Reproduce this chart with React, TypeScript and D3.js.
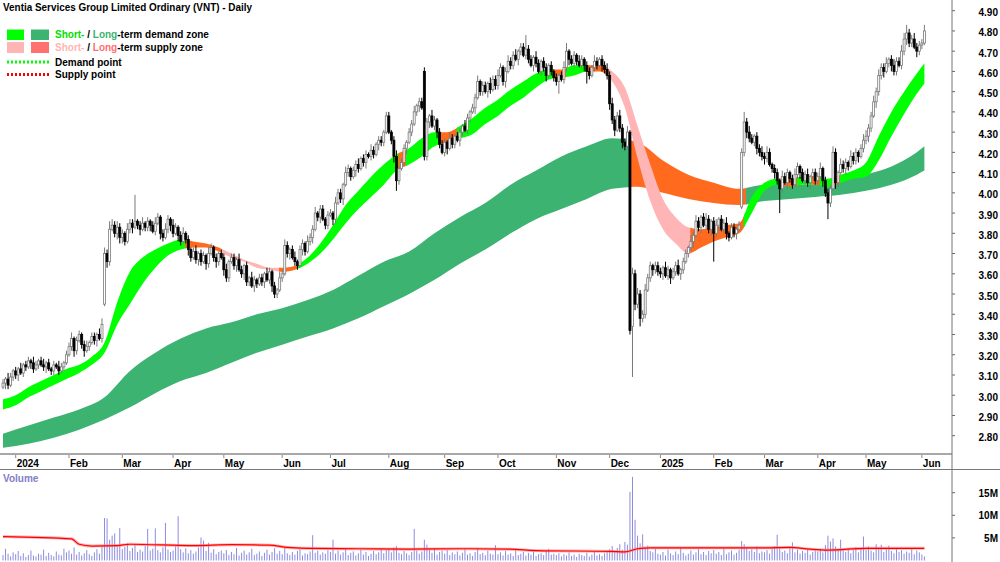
import React from "react";
import * as d3 from "d3";

const TITLE = "Ventia Services Group Limited Ordinary (VNT) - Daily";

// trading days per month (Dec-2023 tail ... Jun-2025 head) and labels
const monthLabels = ["", "2024", "Feb", "Mar", "Apr", "May", "Jun", "Jul", "Aug", "Sep", "Oct", "Nov", "Dec", "2025", "Feb", "Mar", "Apr", "May", "Jun"];
const monthDays = [5, 21, 21, 20, 20, 23, 19, 23, 22, 21, 23, 21, 20, 21, 20, 21, 19, 22, 2];

// daily closes by month
const cDec23 = [3.06, 3.08, 3.05, 3.09, 3.12];
const cJan24 = [3.10, 3.13, 3.11, 3.15, 3.14, 3.17, 3.16, 3.13, 3.15, 3.17, 3.15, 3.14, 3.16, 3.13, 3.12, 3.15, 3.14, 3.12, 3.14, 3.16, 3.20];
const cFeb24 = [3.24, 3.28, 3.22, 3.27, 3.30, 3.25, 3.22, 3.24, 3.26, 3.29, 3.27, 3.30, 3.28, 3.35, 3.70, 3.66, 3.82, 3.84, 3.80, 3.83, 3.78];
const cMar24 = [3.80, 3.76, 3.82, 3.85, 3.83, 3.86, 3.84, 3.82, 3.85, 3.83, 3.86, 3.84, 3.81, 3.85, 3.88, 3.80, 3.78, 3.82, 3.87, 3.84];
const cApr24 = [3.80, 3.83, 3.79, 3.76, 3.80, 3.77, 3.72, 3.68, 3.71, 3.67, 3.70, 3.66, 3.69, 3.65, 3.70, 3.73, 3.68, 3.66, 3.70, 3.68];
const cMay24 = [3.62, 3.58, 3.66, 3.68, 3.64, 3.67, 3.62, 3.60, 3.64, 3.56, 3.58, 3.54, 3.57, 3.55, 3.58, 3.56, 3.60, 3.57, 3.61, 3.54, 3.50, 3.52, 3.58];
const cJun24 = [3.60, 3.74, 3.70, 3.72, 3.68, 3.66, 3.64, 3.72, 3.75, 3.71, 3.76, 3.78, 3.82, 3.90, 3.88, 3.92, 3.87, 3.84, 3.89];
const cJul24 = [3.90, 3.87, 3.95, 4.00, 3.97, 4.04, 4.10, 4.12, 4.08, 4.11, 4.14, 4.12, 4.17, 4.15, 4.19, 4.18, 4.21, 4.19, 4.24, 4.26, 4.25, 4.30, 4.38];
const cAug24 = [4.30, 4.26, 4.18, 4.06, 4.12, 4.15, 4.22, 4.25, 4.30, 4.34, 4.40, 4.43, 4.45, 4.42, 4.18, 4.35, 4.38, 4.33, 4.36, 4.30, 4.24, 4.20];
const cSep24 = [4.25, 4.22, 4.27, 4.24, 4.28, 4.26, 4.30, 4.33, 4.31, 4.37, 4.40, 4.42, 4.47, 4.55, 4.50, 4.53, 4.50, 4.54, 4.51, 4.56, 4.53];
const cOct24 = [4.58, 4.62, 4.55, 4.60, 4.65, 4.63, 4.68, 4.66, 4.70, 4.72, 4.68, 4.71, 4.66, 4.63, 4.67, 4.64, 4.60, 4.65, 4.62, 4.58, 4.63, 4.60, 4.57];
const cNov24 = [4.55, 4.58, 4.56, 4.62, 4.70, 4.66, 4.64, 4.68, 4.65, 4.63, 4.66, 4.63, 4.60, 4.58, 4.62, 4.65, 4.63, 4.66, 4.63, 4.61, 4.58];
const cDec24 = [4.44, 4.36, 4.31, 4.38, 4.32, 4.25, 4.23, 4.30, 3.32, 3.60, 3.45, 3.50, 3.38, 3.40, 3.52, 3.58, 3.64, 3.62, 3.64, 3.61];
const cJan25 = [3.60, 3.63, 3.59, 3.62, 3.58, 3.61, 3.64, 3.60, 3.62, 3.66, 3.70, 3.73, 3.76, 3.79, 3.86, 3.83, 3.88, 3.84, 3.87, 3.82, 3.86];
const cFeb25 = [3.80, 3.84, 3.87, 3.82, 3.85, 3.80, 3.78, 3.83, 3.80, 3.82, 3.84, 4.20, 4.35, 4.30, 4.27, 4.25, 4.28, 4.22, 4.20, 4.18];
const cMar25 = [4.17, 4.20, 4.14, 4.12, 4.10, 4.06, 4.02, 4.08, 4.05, 4.10, 4.07, 4.04, 4.09, 4.13, 4.10, 4.06, 4.09, 4.05, 4.08, 4.10, 4.06];
const cApr25 = [4.08, 4.12, 4.06, 4.00, 3.95, 4.02, 4.20, 4.05, 4.10, 4.14, 4.12, 4.15, 4.13, 4.18, 4.16, 4.20, 4.18, 4.22, 4.26];
const cMay25 = [4.28, 4.32, 4.38, 4.45, 4.50, 4.58, 4.62, 4.60, 4.64, 4.66, 4.63, 4.60, 4.65, 4.63, 4.70, 4.76, 4.79, 4.74, 4.76, 4.72, 4.70, 4.73];
const cJun25 = [4.74, 4.80];

// opens that differ from the previous close (gaps): [barIndex, open]
const gapOpens: [number, number][] = [[0, 3.04], [40, 3.45], [166, 4.60], [248, 3.34], [291, 3.93]];

// wick lengths above / below the body, in cents
const wickHi = [
  2, 1, 3, 2, 1,
  2, 1, 3, 1, 2, 2, 1, 3, 2, 1, 2, 3, 1, 2, 1, 2, 1, 3, 2, 1, 2,
  2, 3, 1, 2, 2, 1, 2, 3, 1, 2, 2, 1, 3, 3, 3, 2, 4, 3, 2, 3, 2,
  2, 1, 3, 2, 2, 13, 1, 2, 3, 1, 2, 1, 2, 3, 2, 1, 2, 3, 2, 1,
  3, 2, 1, 2, 3, 1, 2, 1, 2, 3, 1, 2, 2, 1, 3, 2, 1, 2, 1, 2,
  2, 3, 1, 2, 2, 1, 3, 2, 1, 2, 1, 3, 2, 1, 2, 2, 1, 3, 2, 1, 2, 1, 3,
  2, 3, 2, 1, 2, 3, 1, 2, 2, 1, 3, 2, 2, 3, 1, 2, 2, 1, 2,
  2, 1, 3, 2, 2, 1, 3, 2, 1, 2, 2, 3, 1, 2, 2, 1, 3, 2, 1, 2, 2, 1, 2,
  2, 1, 2, 3, 1, 2, 2, 1, 2, 2, 3, 1, 2, 2, 2, 2, 1, 3, 2, 1, 2, 2,
  2, 1, 3, 2, 1, 2, 2, 1, 3, 2, 1, 2, 2, 3, 1, 2, 2, 1, 3, 2, 2,
  3, 2, 1, 2, 3, 2, 2, 3, 1, 2, 2, 7, 2, 2, 1, 3, 2, 1, 2, 2, 1, 2, 1,
  2, 1, 2, 3, 4, 1, 2, 2, 1, 3, 2, 1, 2, 2, 1, 3, 2, 1, 2, 2, 3,
  2, 3, 2, 2, 3, 2, 2, 3, 1, 3, 2, 3, 2, 2, 3, 2, 2, 1, 2, 2,
  2, 1, 3, 2, 1, 2, 2, 3, 1, 2, 2, 1, 3, 2, 3, 2, 1, 2, 3, 2, 1,
  2, 3, 1, 2, 2, 3, 1, 2, 2, 1, 2, 2, 5, 2, 3, 2, 1, 2, 2, 3,
  2, 3, 2, 1, 2, 2, 1, 3, 2, 2, 1, 2, 3, 2, 1, 2, 2, 3, 1, 2, 2,
  2, 3, 1, 2, 2, 2, 3, 2, 1, 3, 2, 2, 1, 3, 2, 2, 1, 2, 3,
  3, 2, 2, 3, 2, 3, 2, 2, 3, 1, 2, 3, 2, 2, 3, 3, 4, 2, 2, 3, 2, 2,
  2, 3,
];
const wickLo = [
  1, 3, 2, 1, 2,
  2, 3, 1, 2, 2, 1, 3, 2, 1, 2, 1, 2, 3, 1, 2, 2, 1, 2, 1, 2, 1,
  1, 2, 3, 2, 1, 2, 3, 1, 2, 1, 2, 3, 1, 2, 1, 3, 2, 1, 2, 3, 3,
  3, 2, 1, 2, 3, 1, 2, 3, 1, 2, 2, 3, 1, 2, 1, 3, 2, 1, 2, 3,
  2, 1, 3, 2, 1, 2, 3, 2, 1, 2, 3, 2, 1, 3, 2, 1, 2, 3, 2, 1,
  3, 2, 2, 1, 2, 3, 1, 2, 3, 2, 2, 1, 3, 2, 1, 2, 3, 1, 2, 3, 2, 2, 1,
  2, 1, 2, 3, 1, 2, 2, 1, 3, 2, 1, 2, 3, 1, 2, 3, 1, 2, 2,
  1, 3, 2, 1, 2, 3, 1, 2, 2, 1, 3, 2, 1, 2, 3, 1, 2, 2, 1, 3, 2, 2, 1,
  1, 2, 3, 5, 2, 1, 2, 3, 1, 2, 1, 2, 3, 1, 2, 2, 3, 1, 2, 3, 2, 1,
  2, 3, 1, 2, 2, 1, 3, 2, 1, 2, 2, 1, 3, 1, 2, 2, 1, 3, 2, 1, 2,
  2, 1, 2, 3, 1, 2, 2, 1, 3, 2, 1, 2, 2, 1, 3, 2, 1, 2, 2, 3, 1, 2, 2,
  2, 6, 1, 2, 2, 3, 1, 2, 2, 1, 2, 3, 6, 2, 1, 2, 2, 1, 3, 2, 2,
  3, 2, 3, 1, 2, 3, 2, 1, 2, 25, 3, 2, 4, 2, 2, 1, 2, 3, 2, 2,
  2, 3, 1, 2, 3, 1, 2, 1, 3, 2, 1, 2, 2, 3, 1, 2, 3, 1, 2, 2, 3,
  14, 2, 3, 1, 2, 3, 2, 1, 2, 3, 1, 1, 2, 3, 2, 1, 2, 3, 2, 2,
  3, 2, 1, 2, 3, 2, 12, 2, 1, 3, 2, 2, 1, 2, 3, 1, 2, 2, 3, 1, 2,
  2, 1, 3, 2, 8, 2, 1, 3, 2, 1, 2, 3, 2, 1, 2, 2, 3, 1, 2,
  2, 3, 2, 1, 3, 2, 2, 3, 1, 2, 3, 2, 2, 1, 2, 2, 3, 2, 2, 1, 3, 2,
  2, 1,
];

// daily volume (millions)
const vDec23 = [1.2, 2.6, 1.5, 0.9, 1.8];
const vJan24 = [1.4, 2.1, 1.0, 1.6, 0.8, 1.2, 2.2, 1.1, 0.9, 1.5, 1.3, 2.4, 1.0, 1.7, 1.2, 0.9, 2.0, 1.3, 1.1, 2.6, 1.8];
const vFeb24 = [2.2, 1.5, 2.9, 1.3, 1.9, 1.1, 1.6, 2.3, 1.4, 1.0, 1.8, 2.5, 1.5, 3.1, 9.4, 9.3, 4.6, 5.5, 6.0, 3.2, 7.2];
const vMar24 = [2.5, 3.0, 3.9, 2.1, 2.8, 3.5, 1.9, 2.4, 2.0, 3.2, 7.0, 2.2, 2.6, 7.1, 2.3, 1.8, 2.9, 8.3, 2.4, 1.9];
const vApr24 = [2.2, 3.1, 9.8, 2.5, 1.8, 2.7, 1.6, 2.3, 1.5, 2.0, 2.9, 5.1, 4.4, 2.1, 3.9, 1.7, 2.5, 1.4, 1.9, 2.2];
const vMay24 = [1.6, 2.3, 1.2, 1.9, 1.4, 2.8, 1.1, 1.7, 2.2, 1.3, 1.8, 2.6, 1.2, 1.5, 2.0, 1.0, 1.7, 2.4, 1.3, 1.9, 2.7, 1.5, 2.1];
const vJun24 = [1.4, 2.8, 1.6, 1.2, 1.9, 1.3, 2.1, 2.5, 1.1, 1.6, 1.4, 2.0, 5.6, 1.7, 2.2, 1.3, 1.8, 1.5, 2.3];
const vJul24 = [1.9, 4.6, 1.5, 2.2, 1.3, 1.8, 2.6, 1.2, 1.7, 2.0, 1.1, 1.6, 2.4, 1.3, 1.9, 1.0, 1.5, 2.1, 1.4, 1.8, 2.7, 1.6, 2.3];
const vAug24 = [2.5, 1.8, 2.9, 3.2, 1.7, 1.4, 2.1, 1.6, 1.2, 1.9, 7.0, 2.2, 1.5, 2.0, 4.6, 3.5, 2.4, 1.7, 2.6, 1.3, 1.9, 2.2];
const vSep24 = [1.5, 2.3, 1.2, 1.8, 1.4, 2.0, 1.1, 1.7, 2.5, 1.3, 1.6, 1.0, 1.9, 2.8, 1.4, 1.7, 1.2, 2.2, 1.5, 1.3, 3.4];
const vOct24 = [1.4, 1.8, 1.1, 2.1, 1.3, 1.6, 1.0, 2.4, 1.2, 1.5, 1.9, 1.1, 1.7, 1.3, 2.0, 1.0, 1.4, 1.6, 1.2, 2.2, 2.6, 1.3, 1.5];
const vNov24 = [1.2, 1.6, 0.9, 1.4, 1.1, 1.8, 1.0, 1.3, 0.8, 1.5, 1.2, 1.0, 1.7, 0.9, 1.3, 2.1, 1.1, 1.4, 1.0, 1.6, 1.9];
const vDec24 = [2.5, 3.2, 2.0, 2.8, 3.6, 2.4, 4.1, 3.5, 15.2, 18.5, 9.0, 5.5, 3.8, 5.8, 2.9, 3.3, 2.1, 1.8, 2.6, 1.5];
const vJan25 = [1.3, 1.9, 1.1, 2.4, 1.6, 1.2, 2.0, 1.4, 2.8, 1.7, 1.1, 1.5, 2.2, 1.3, 1.8, 2.5, 1.4, 1.9, 1.2, 2.1, 1.6];
const vFeb25 = [2.3, 1.5, 1.9, 1.2, 2.6, 1.4, 1.8, 2.2, 1.3, 1.7, 2.4, 4.3, 3.6, 2.8, 2.1, 2.5, 1.9, 3.1, 1.6, 2.0];
const vMar25 = [1.8, 2.3, 1.5, 2.7, 3.2, 5.7, 2.6, 1.9, 2.2, 1.6, 2.9, 4.0, 1.8, 2.4, 1.5, 2.1, 1.7, 2.5, 1.3, 1.9, 2.2];
const vApr25 = [2.0, 2.6, 1.8, 3.4, 5.5, 4.2, 4.9, 3.1, 2.5, 4.6, 2.2, 1.9, 2.7, 1.6, 2.3, 3.0, 1.8, 2.6, 5.3];
const vMay25 = [2.4, 3.1, 2.2, 1.8, 3.6, 2.7, 3.5, 1.9, 2.5, 3.3, 2.1, 1.6, 2.8, 1.9, 2.3, 1.5, 2.0, 1.7, 2.6, 1.4, 2.2, 1.8];
const vJun25 = [1.3, 0.9];

// volume moving average, read at sample bars: [barIndex, millions]
const volMA: [number, number][] = [[0, 5.3], [27, 4.8], [30, 3.6], [35, 3.2], [45, 3.3], [50, 3.6], [75, 3.3], [90, 3.5], [105, 3.4], [112, 2.9], [120, 2.7], [140, 2.6], [160, 2.5], [180, 2.6], [200, 2.5], [210, 2.2], [240, 2.0], [245, 1.9], [250, 2.6], [255, 2.8], [300, 2.8], [310, 2.9], [318, 2.5], [325, 2.3], [340, 2.7], [363, 2.7]];

// short-term zone edges, sampled every 5 bars (last at 363)
const stHi = [2.98, 3.00, 3.04, 3.07, 3.10, 3.13, 3.15, 3.19, 3.26, 3.46, 3.61, 3.68, 3.72, 3.75, 3.77, 3.76, 3.75, 3.73, 3.70, 3.67, 3.65, 3.63, 3.63, 3.64, 3.68, 3.75, 3.84, 3.94, 4.01, 4.08, 4.14, 4.19, 4.22, 4.27, 4.30, 4.30, 4.33, 4.37, 4.42, 4.46, 4.51, 4.55, 4.59, 4.61, 4.61, 4.63, 4.63, 4.63, 4.60, 4.52, 4.33, 4.14, 3.97, 3.88, 3.83, 3.82, 3.83, 3.84, 3.85, 3.98, 4.05, 4.07, 4.07, 4.08, 4.08, 4.07, 4.09, 4.11, 4.15, 4.28, 4.40, 4.50, 4.59, 4.64];
const stLo = [2.93, 2.95, 2.99, 3.02, 3.05, 3.08, 3.11, 3.15, 3.21, 3.35, 3.45, 3.55, 3.63, 3.69, 3.72, 3.73, 3.73, 3.71, 3.68, 3.66, 3.63, 3.62, 3.61, 3.62, 3.65, 3.70, 3.77, 3.85, 3.92, 3.98, 4.04, 4.11, 4.14, 4.18, 4.23, 4.25, 4.27, 4.29, 4.34, 4.38, 4.43, 4.47, 4.52, 4.56, 4.57, 4.58, 4.60, 4.60, 4.55, 4.42, 4.17, 3.96, 3.82, 3.75, 3.70, 3.73, 3.76, 3.78, 3.80, 3.90, 4.01, 4.04, 4.03, 4.04, 4.04, 4.03, 4.05, 4.07, 4.08, 4.16, 4.28, 4.39, 4.49, 4.54];
// short-term zone state by bar range: d = demand, s = supply, o = mixed
const stStates: [number, number, string][] = [[0, 72, "d"], [72, 86, "o"], [86, 109, "s"], [109, 116, "o"], [116, 156, "d"], [156, 159, "o"], [159, 166, "d"], [166, 167, "o"], [167, 172, "d"], [172, 179, "o"], [179, 217, "d"], [217, 222, "o"], [222, 230, "d"], [230, 238, "o"], [238, 271, "s"], [271, 292, "o"], [292, 306, "d"], [306, 313, "o"], [313, 319, "d"], [319, 322, "o"], [322, 327, "d"], [327, 330, "o"], [330, 363, "d"]];

// long-term zone edges, sampled every 10 bars (last at 363)
const ltHi = [2.81, 2.85, 2.89, 2.93, 2.99, 3.12, 3.21, 3.28, 3.33, 3.36, 3.40, 3.43, 3.47, 3.52, 3.59, 3.66, 3.71, 3.80, 3.88, 3.95, 4.04, 4.11, 4.18, 4.23, 4.27, 4.25, 4.16, 4.09, 4.05, 4.02, 4.04, 4.04, 4.04, 4.06, 4.09, 4.13, 4.20, 4.23];
const ltLo = [2.74, 2.76, 2.79, 2.83, 2.88, 2.94, 3.01, 3.07, 3.11, 3.16, 3.21, 3.25, 3.29, 3.33, 3.38, 3.44, 3.50, 3.57, 3.65, 3.72, 3.80, 3.87, 3.92, 3.97, 4.02, 4.03, 4.00, 3.97, 3.95, 3.94, 3.96, 3.97, 3.98, 3.99, 4.01, 4.04, 4.09, 4.11];
const ltStates: [number, number, string][] = [[0, 247, "d"], [247, 293, "o"], [293, 363, "d"]];

const priceTicks = [2.8, 2.9, 3.0, 3.1, 3.2, 3.3, 3.4, 3.5, 3.6, 3.7, 3.8, 3.9, 4.0, 4.1, 4.2, 4.3, 4.4, 4.5, 4.6, 4.7, 4.8, 4.9];
const volTicks = [5, 10, 15];

const close = [...cDec23, ...cJan24, ...cFeb24, ...cMar24, ...cApr24, ...cMay24, ...cJun24, ...cJul24, ...cAug24, ...cSep24, ...cOct24, ...cNov24, ...cDec24, ...cJan25, ...cFeb25, ...cMar25, ...cApr25, ...cMay25, ...cJun25];
const volume = [...vDec23, ...vJan24, ...vFeb24, ...vMar24, ...vApr24, ...vMay24, ...vJun24, ...vJul24, ...vAug24, ...vSep24, ...vOct24, ...vNov24, ...vDec24, ...vJan25, ...vFeb25, ...vMar25, ...vApr25, ...vMay25, ...vJun25];

const W = 1000, H = 562;
const PLOT_R = 952;
const PRICE_B = 453;
const FONT = "'Liberation Sans', Arial, Helvetica, sans-serif";

const ST_COL: Record<string, string> = { d: "#00ff00", s: "#ffb5b5", o: "#ff6a1e" };
const LT_COL: Record<string, string> = { d: "#3cb371", o: "#ff6a1e" };

export default function App() {
  const n = close.length;
  const x = d3.scaleLinear().domain([0, 363]).range([3, 924.4]);
  const y = d3.scaleLinear().domain([2.8, 4.9]).range([435.7, 10.7]);
  const yv = d3.scaleLinear().domain([0, 20]).range([560.5, 470.1]);

  const gapMap = new Map(gapOpens);
  const bars = close.map((c, i) => {
    const o = gapMap.has(i) ? (gapMap.get(i) as number) : close[i - 1];
    const top = Math.max(o, c), bot = Math.min(o, c);
    return { i, o, c, hi: top + wickHi[i] / 100, lo: bot - wickLo[i] / 100, up: c >= o };
  });

  const stIdx = stHi.map((_, k) => Math.min(k * 5, 363));
  const ltIdx = ltHi.map((_, k) => Math.min(k * 10, 363));
  const stData = stIdx.map((i, k) => ({ i, hi: stHi[k], lo: stLo[k] }));
  const ltData = ltIdx.map((i, k) => ({ i, hi: ltHi[k], lo: ltLo[k] }));
  const area = d3.area<{ i: number; hi: number; lo: number }>()
    .x(d => x(d.i)).y0(d => y(d.lo)).y1(d => y(d.hi)).curve(d3.curveMonotoneX);
  const stPath = area(stData) || "";
  const ltPath = area(ltData) || "";

  const maLine = d3.line<[number, number]>().x(d => x(d[0])).y(d => yv(d[1])).curve(d3.curveMonotoneX)(volMA) || "";

  const starts: number[] = [];
  monthDays.reduce((acc, d) => { starts.push(acc); return acc + d; }, 0);

  const clipRect = (a: number, b: number) => {
    const x0 = a === 0 ? 0 : x(a) - 0.6;
    const x1 = b === 363 ? PLOT_R : x(b) + 0.6;
    return { x: x0, width: x1 - x0 };
  };

  return (
    <svg width={W} height={H} style={{ position: "absolute", left: 0, top: 0, background: "#fff" }} fontFamily={FONT}>
      <defs>
        <clipPath id="pricePanel"><rect x={0} y={0} width={PLOT_R} height={PRICE_B} /></clipPath>
        <clipPath id="volPanel"><rect x={0} y={471} width={PLOT_R} height={H - 471} /></clipPath>
        {ltStates.map(([a, b], k) => {
          const r = clipRect(a, b);
          return <clipPath key={"ltc" + k} id={"ltc" + k}><rect x={r.x} y={0} width={r.width} height={PRICE_B} /></clipPath>;
        })}
        {stStates.map(([a, b], k) => {
          const r = clipRect(a, b);
          return <clipPath key={"stc" + k} id={"stc" + k}><rect x={r.x} y={0} width={r.width} height={PRICE_B} /></clipPath>;
        })}
      </defs>
      <rect x={0} y={0} width={W} height={H} fill="#fff" />

      <g clipPath="url(#pricePanel)">
        {ltStates.map(([, , s], k) => (
          <path key={"lt" + k} d={ltPath} fill={LT_COL[s]} clipPath={`url(#ltc${k})`} />
        ))}
        {stStates.map(([, , s], k) => (
          <path key={"st" + k} d={stPath} fill={ST_COL[s]} clipPath={`url(#stc${k})`} />
        ))}
        {bars.map(b => {
          const cx = x(b.i);
          const col = b.up ? "#7a7a7a" : "#000";
          const yt = y(Math.max(b.o, b.c));
          const yb = y(Math.min(b.o, b.c));
          return (
            <g key={"c" + b.i}>
              <line x1={cx} x2={cx} y1={y(b.hi)} y2={y(b.lo)} stroke={col} strokeWidth={1} />
              <rect x={cx - 1} y={yt} width={2} height={Math.max(yb - yt, 0.8)}
                fill={b.up ? "#fff" : "#000"} stroke={col} strokeWidth={0.8} />
            </g>
          );
        })}
      </g>

      {/* title & legend */}
      <text x={3} y={10.5} fontSize={10} fontWeight="bold" fill="#000" textLength={249} lengthAdjust="spacingAndGlyphs">{TITLE}</text>
      <rect x={7} y={29.5} width={17} height={10.5} fill="#00ff00" />
      <rect x={31} y={29.5} width={18} height={10.5} fill="#3cb371" />
      <text x={55} y={38} fontSize={10} fontWeight="bold">
        <tspan fill="#00e000">Short-</tspan><tspan fill="#000"> / </tspan><tspan fill="#3cb371">Long</tspan><tspan fill="#000">-term demand zone</tspan>
      </text>
      <rect x={7} y={42} width={17} height={11} fill="#ffb5b5" />
      <rect x={31} y={42} width={18} height={11} fill="#ff7070" />
      <text x={55} y={50.5} fontSize={10} fontWeight="bold">
        <tspan fill="#ffb5b5">Short-</tspan><tspan fill="#000"> / </tspan><tspan fill="#ff7070">Long</tspan><tspan fill="#000">-term supply zone</tspan>
      </text>
      <line x1={7} x2={49} y1={62} y2={62} stroke="#00ff00" strokeWidth={3} strokeDasharray="2 2" />
      <text x={55} y={65.5} fontSize={10} fontWeight="bold" fill="#000">Demand point</text>
      <line x1={7} x2={49} y1={74.5} y2={74.5} stroke="#ff0000" strokeWidth={3} strokeDasharray="2 2" />
      <text x={55} y={78} fontSize={10} fontWeight="bold" fill="#000">Supply point</text>

      {/* price axis */}
      {priceTicks.map(p => (
        <g key={"pt" + p}>
          <line x1={PLOT_R} x2={PLOT_R + 3} y1={y(p)} y2={y(p)} stroke="#666" />
          <text x={998} y={y(p) + 5.5} fontSize={10} fontWeight="bold" textAnchor="end" fill="#000">{p.toFixed(2)}</text>
        </g>
      ))}

      {/* date axis band */}
      <line x1={0} x2={PLOT_R} y1={454} y2={454} stroke="#a8a8a8" strokeWidth={2} />
      <line x1={0} x2={W} y1={469.5} y2={469.5} stroke="#777" strokeWidth={1} />
      {starts.map((s, k) => monthLabels[k] ? (
        <g key={"m" + k}>
          <line x1={x(s)} x2={x(s)} y1={455} y2={458} stroke="#888" />
          <text x={x(s) + 1} y={467} fontSize={10} fontWeight="bold" fill="#000">{monthLabels[k]}</text>
        </g>
      ) : null)}

      {/* volume */}
      <g clipPath="url(#volPanel)">
        {volume.map((v, i) => (
          <line key={"v" + i} x1={x(i)} x2={x(i)} y1={yv(0)} y2={yv(v)} stroke="#8c8ce0" strokeWidth={1} />
        ))}
        <path d={maLine} fill="none" stroke="#ff8080" strokeWidth={3} opacity={0.6} />
        <path d={maLine} fill="none" stroke="#ff0000" strokeWidth={1.2} />
      </g>
      <text x={3} y={482} fontSize={10} fontWeight="bold" fill="#8080c8">Volume</text>
      {volTicks.map(v => (
        <g key={"vt" + v}>
          <line x1={PLOT_R} x2={PLOT_R + 3} y1={yv(v)} y2={yv(v)} stroke="#666" />
          <text x={998} y={yv(v) + 4} fontSize={10} fontWeight="bold" textAnchor="end" fill="#000">{v}M</text>
        </g>
      ))}

      <line x1={PLOT_R} x2={PLOT_R} y1={0} y2={H} stroke="#777" strokeWidth={1} />
    </svg>
  );
}
